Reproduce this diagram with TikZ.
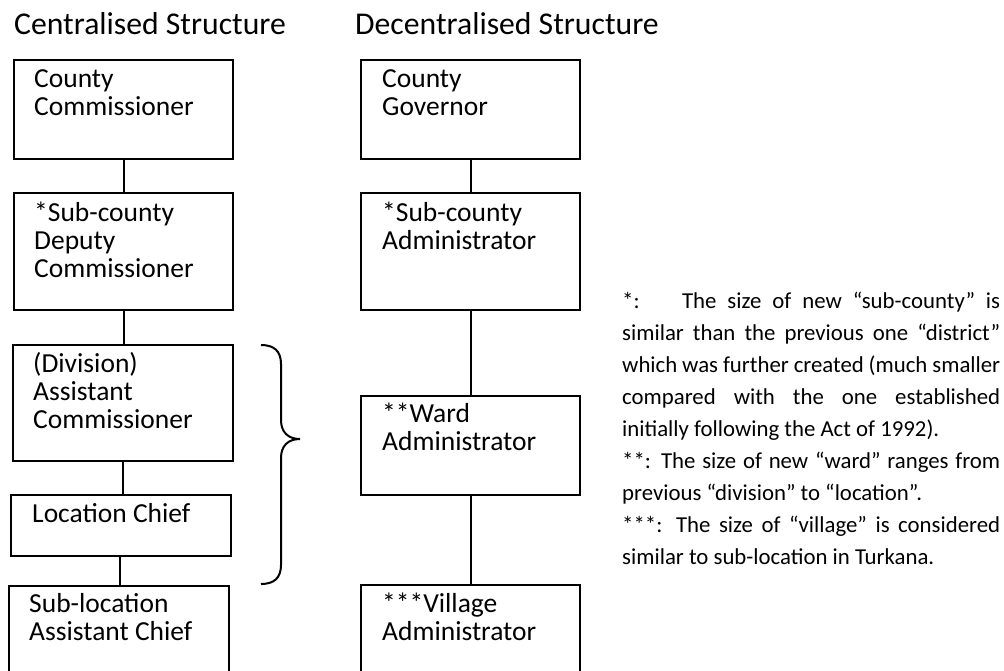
\documentclass[tikz,border=0pt]{standalone}
\usepackage{fontspec}
\setmainfont{Carlito}
\usetikzlibrary{calc}
\begin{document}
\begin{tikzpicture}[x=1pt,y=-1pt,
  box/.style={draw=black, line width=1.9pt, rectangle, inner sep=0pt, outer sep=0pt, anchor=north west},
  lbl/.style={anchor=base west, inner sep=0pt, font=\fontsize{27.5}{28}\selectfont},
  head/.style={anchor=base west, inner sep=0pt, font=\fontsize{31.7}{36}\selectfont},
  link/.style={draw=black, line width=2pt},
  notetext/.style={anchor=base west, inner sep=0pt, font=\fontsize{22.8}{32}\selectfont}]
\useasboundingbox (0,0) rectangle (1004,671);
\clip (0,0) rectangle (1004,671);
\newcommand{\lines}[1]{\begin{tabular}[t]{@{}l@{}}#1\end{tabular}}

% headings
\node[head] (hl) at (14,35) {Centralised Structure};
\node[head] (hr) at (355,35) {Decentralised Structure};

% centralised chain
\node[box, minimum width=219pt, minimum height=99pt]  (c1) at (14,60)  {};
\node[box, minimum width=219pt, minimum height=117pt] (c2) at (14,193) {};
\node[box, minimum width=220pt, minimum height=116pt] (c3) at (13,345) {};
\node[box, minimum width=220pt, minimum height=61pt]  (c4) at (11,495) {};
\node[box, minimum width=220pt, minimum height=110pt] (c5) at (9,586)  {};

\node[lbl] (c1t) at ($(c1.north west)+(20,28)$) {\lines{County\\Commissioner}};
\node[lbl] (c2t) at ($(c2.north west)+(20,29)$) {\lines{*Sub-county\\Deputy\\Commissioner}};
\node[lbl] (c3t) at ($(c3.north west)+(20,27)$) {\lines{(Division)\\Assistant\\Commissioner}};
\node[lbl] (c4t) at ($(c4.north west)+(21,27)$) {Location Chief};
\node[lbl] (c5t) at ($(c5.north west)+(20,26)$) {\lines{Sub-location\\Assistant Chief}};

\draw[link] (c1.south) -- (c1.south |- c2.north);
\draw[link] (c2.south) -- (c2.south |- c3.north);
\draw[link] (c3.south) -- (c3.south |- c4.north);
\draw[link] ($(c4.south)+(-1,0)$) -- ($(c4.south |- c5.north)+(-1,0)$);

% brace grouping division and location levels
\draw[line width=2pt] (261,345) .. controls (274,345) and (281,351) .. (281,364)
  -- (281,420) .. controls (281,432) and (288,439) .. (300,439)
  .. controls (288,439) and (281,446) .. (281,458)
  -- (281,565) .. controls (281,578) and (274,584) .. (261,584);

% decentralised chain
\node[box, minimum width=219pt, minimum height=99pt]  (d1) at (361,60)  {};
\node[box, minimum width=219pt, minimum height=117pt] (d2) at (361,193) {};
\node[box, minimum width=219pt, minimum height=99pt]  (d3) at (361,396) {};
\node[box, minimum width=219pt, minimum height=110pt] (d4) at (361,585) {};

\node[lbl] (d1t) at ($(d1.north west)+(21,28)$) {\lines{County\\Governor}};
\node[lbl] (d2t) at ($(d2.north west)+(21,29)$) {\lines{*Sub-county\\Administrator}};
\node[lbl] (d3t) at ($(d3.north west)+(21,26)$) {\lines{**Ward\\Administrator}};
\node[lbl] (d4t) at ($(d4.north west)+(21,27)$) {\lines{***Village\\Administrator}};

\draw[link] (d1.south) -- (d2.north);
\draw[link] (d2.south) -- (d3.north);
\draw[link] (d3.south) -- (d4.north);

% footnotes on the size of the new units
\node[notetext] (n1) at (622,308) {\makebox[378pt][s]{*:\hspace{24pt} The size of new “sub-county” is}};
\node[notetext] (n2) at (622,340) {\makebox[378pt][s]{similar than the previous one “district”}};
\node[notetext] (n3) at (622,372) {\makebox[378pt][s]{which was further created (much smaller}};
\node[notetext] (n4) at (622,404) {\makebox[378pt][s]{compared with the one established}};
\node[notetext] (n5) at (622,436) {initially following the Act of 1992).};
\node[notetext] (n6) at (622,468) {\makebox[378pt][s]{**: The size of new “ward” ranges from}};
\node[notetext] (n7) at (622,500) {previous “division” to “location”.};
\node[notetext] (n8) at (622,532) {\makebox[378pt][s]{***: The size of “village” is considered}};
\node[notetext] (n9) at (622,564) {similar to sub-location in Turkana.};
\end{tikzpicture}
\end{document}
